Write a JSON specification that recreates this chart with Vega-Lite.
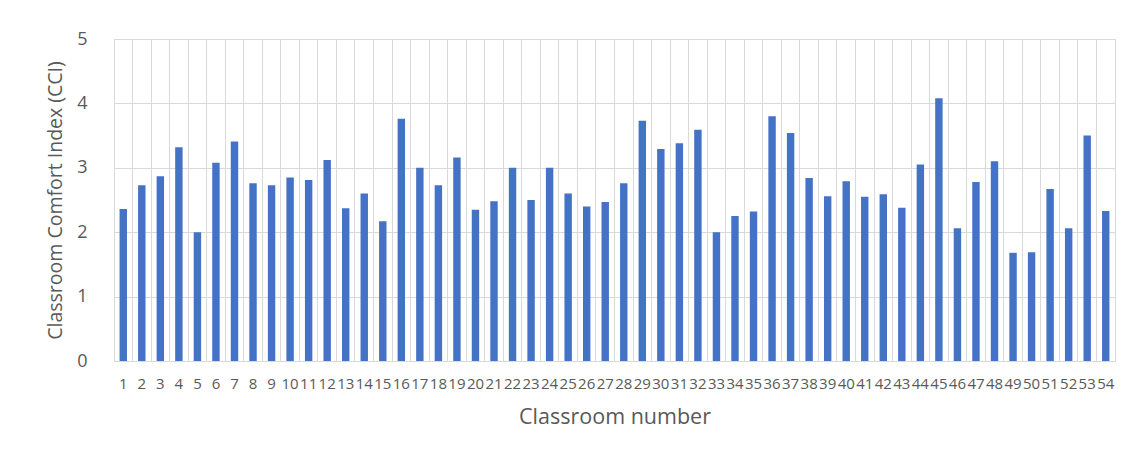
{
  "$schema": "https://vega.github.io/schema/vega-lite/v6.json",
  "width": 1001,
  "height": 322,
  "autosize": {"type": "none"},
  "padding": {"left": 114, "top": 39, "right": 16, "bottom": 95},
  "background": "white",
  "config": {
    "font": "Open Sans",
    "view": {"stroke": "#d9d9d9", "strokeWidth": 1}
  },
  "data": {
    "values": [
      {"classroom": 1, "cci": 2.36}, {"classroom": 2, "cci": 2.73}, {"classroom": 3, "cci": 2.87},
      {"classroom": 4, "cci": 3.32}, {"classroom": 5, "cci": 2.00}, {"classroom": 6, "cci": 3.08},
      {"classroom": 7, "cci": 3.41}, {"classroom": 8, "cci": 2.76}, {"classroom": 9, "cci": 2.73},
      {"classroom": 10, "cci": 2.85}, {"classroom": 11, "cci": 2.81}, {"classroom": 12, "cci": 3.12},
      {"classroom": 13, "cci": 2.37}, {"classroom": 14, "cci": 2.60}, {"classroom": 15, "cci": 2.17},
      {"classroom": 16, "cci": 3.76}, {"classroom": 17, "cci": 3.00}, {"classroom": 18, "cci": 2.73},
      {"classroom": 19, "cci": 3.16}, {"classroom": 20, "cci": 2.35}, {"classroom": 21, "cci": 2.48},
      {"classroom": 22, "cci": 3.00}, {"classroom": 23, "cci": 2.50}, {"classroom": 24, "cci": 3.00},
      {"classroom": 25, "cci": 2.60}, {"classroom": 26, "cci": 2.40}, {"classroom": 27, "cci": 2.47},
      {"classroom": 28, "cci": 2.76}, {"classroom": 29, "cci": 3.73}, {"classroom": 30, "cci": 3.29},
      {"classroom": 31, "cci": 3.38}, {"classroom": 32, "cci": 3.59}, {"classroom": 33, "cci": 2.00},
      {"classroom": 34, "cci": 2.25}, {"classroom": 35, "cci": 2.32}, {"classroom": 36, "cci": 3.80},
      {"classroom": 37, "cci": 3.54}, {"classroom": 38, "cci": 2.84}, {"classroom": 39, "cci": 2.56},
      {"classroom": 40, "cci": 2.79}, {"classroom": 41, "cci": 2.55}, {"classroom": 42, "cci": 2.59},
      {"classroom": 43, "cci": 2.38}, {"classroom": 44, "cci": 3.05}, {"classroom": 45, "cci": 4.08},
      {"classroom": 46, "cci": 2.06}, {"classroom": 47, "cci": 2.78}, {"classroom": 48, "cci": 3.10},
      {"classroom": 49, "cci": 1.68}, {"classroom": 50, "cci": 1.69}, {"classroom": 51, "cci": 2.67},
      {"classroom": 52, "cci": 2.06}, {"classroom": 53, "cci": 3.50}, {"classroom": 54, "cci": 2.33}
    ]
  },
  "mark": {"type": "bar", "color": "#4472C4", "width": {"band": 0.4}},
  "encoding": {
    "x": {
      "field": "classroom",
      "type": "ordinal",
      "sort": "ascending",
      "scale": {"paddingInner": 0, "paddingOuter": 0},
      "axis": {
        "title": "Classroom number",
        "labelAngle": 0,
        "labelFontSize": 15,
        "labelColor": "#595959",
        "labelPadding": 15,
        "labelOverlap": false,
        "ticks": false,
        "domainColor": "#d9d9d9",
        "grid": true,
        "gridColor": "#d9d9d9",
        "bandPosition": 0,
        "titleFontSize": 21.5,
        "titleFontWeight": "normal",
        "titleColor": "#595959",
        "titlePadding": 15
      }
    },
    "y": {
      "field": "cci",
      "type": "quantitative",
      "scale": {"domain": [0, 5], "nice": false},
      "axis": {
        "title": "Classroom Comfort Index (CCI)",
        "values": [0, 1, 2, 3, 4, 5],
        "labelFontSize": 18,
        "labelColor": "#595959",
        "labelPadding": 27,
        "ticks": false,
        "domain": false,
        "gridColor": "#d9d9d9",
        "titleFontSize": 19.5,
        "titleFontWeight": "normal",
        "titleColor": "#595959",
        "titlePadding": 11
      }
    }
  }
}
